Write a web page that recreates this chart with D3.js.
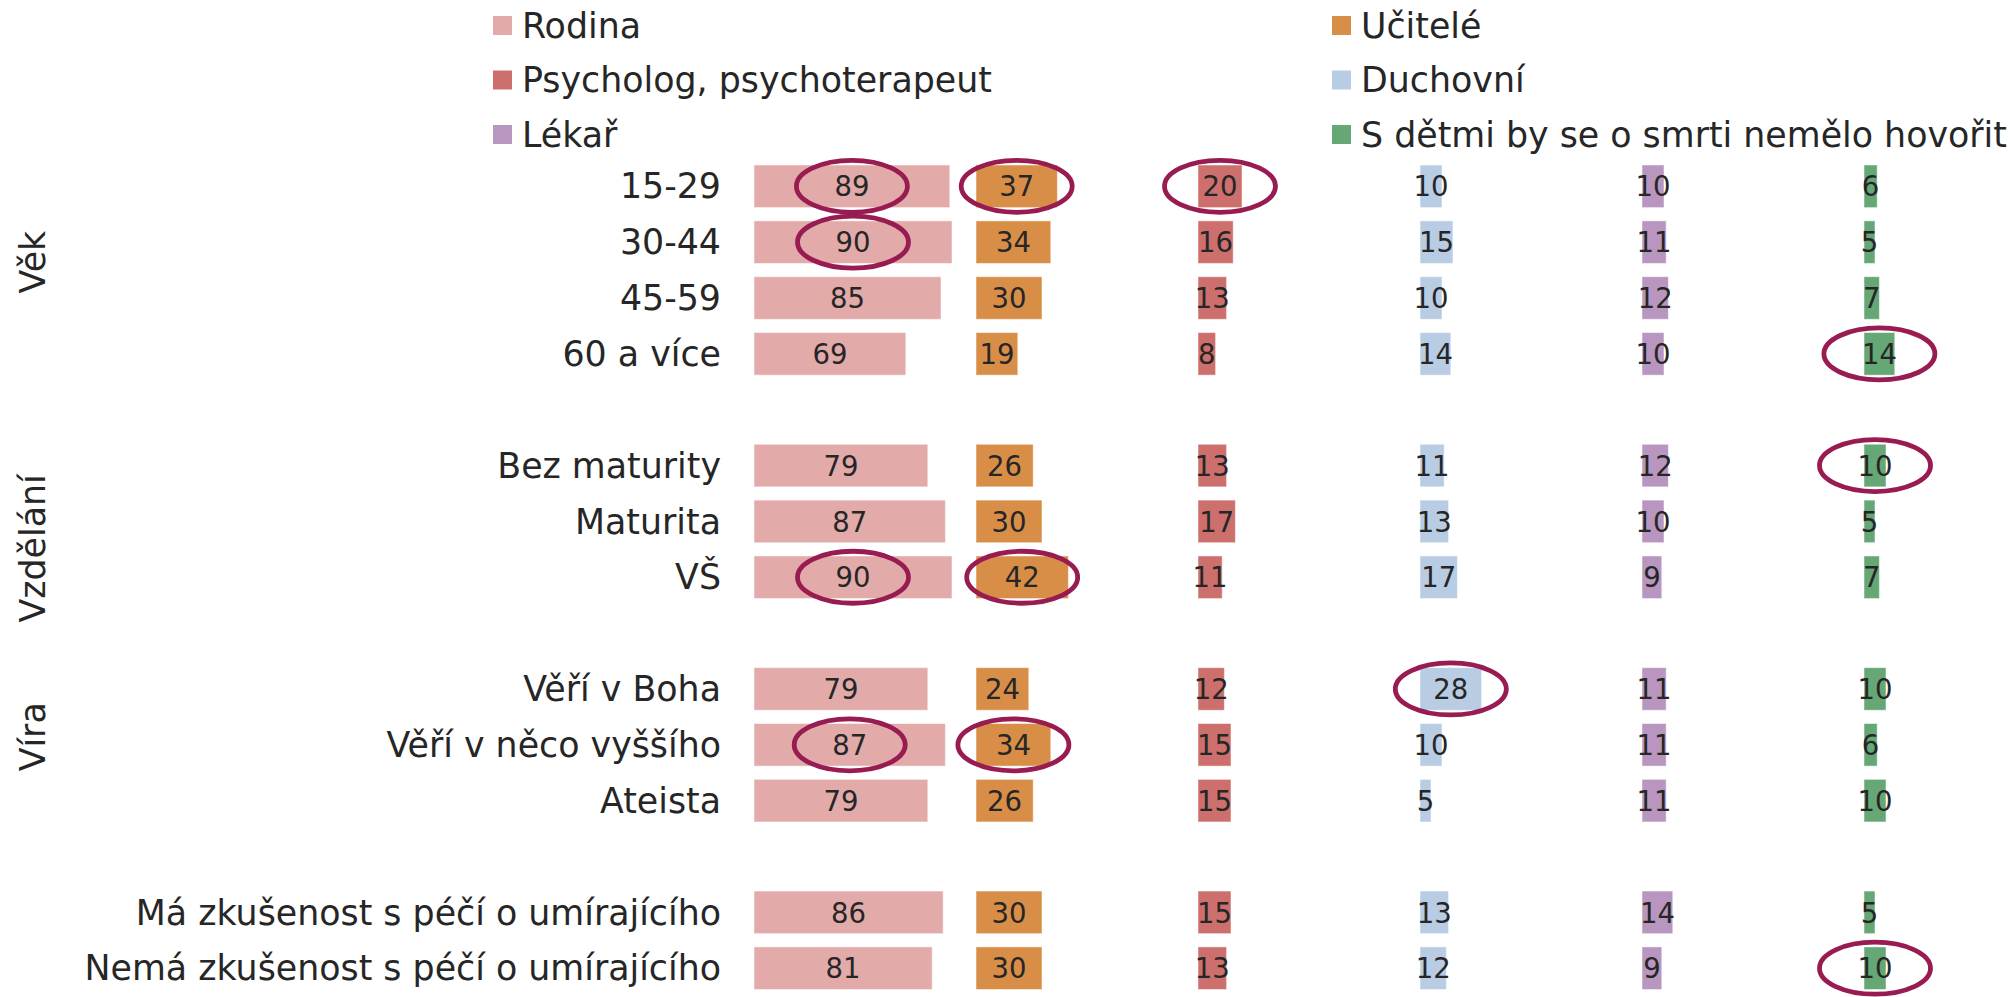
<!DOCTYPE html>
<html>
<head>
<meta charset="utf-8">
<script src="https://cdn.jsdelivr.net/npm/d3@7"></script>
<style>
  body { margin: 0; background: #fff; overflow: hidden; }
  text { font-family: "DejaVu Sans", Verdana, sans-serif; fill: #262626; }
</style>
</head>
<body>
<div id="chart"></div>
<script>
// Categories (rows), grouped
const categories = [
  "15-29", "30-44", "45-59", "60 a více",
  "Bez maturity", "Maturita", "VŠ",
  "Věří v Boha", "Věří v něco vyššího", "Ateista",
  "Má zkušenost s péčí o umírajícího", "Nemá zkušenost s péčí o umírajícího"
];
const groupNames = ["Věk", "Vzdělání", "Víra", ""];
const groupSizes = [4, 3, 3, 2];

// Series (columns)
const seriesNames = [
  "Rodina", "Učitelé", "Psycholog, psychoterapeut",
  "Duchovní", "Lékař", "S dětmi by se o smrti nemělo hovořit"
];
const rodina    = [89, 90, 85, 69, 79, 87, 90, 79, 87, 79, 86, 81];
const ucitele   = [37, 34, 30, 19, 26, 30, 42, 24, 34, 26, 30, 30];
const psycholog = [20, 16, 13, 8, 13, 17, 11, 12, 15, 15, 15, 13];
const duchovni  = [10, 15, 10, 14, 11, 13, 17, 28, 10, 5, 13, 12];
const lekar     = [10, 11, 12, 10, 12, 10, 9, 11, 11, 11, 14, 9];
const deti      = [6, 5, 7, 14, 10, 5, 7, 10, 6, 10, 5, 10];

// Circled cells [category, series]
const highlights = [
  ["15-29", "Rodina"], ["30-44", "Rodina"], ["15-29", "Učitelé"],
  ["15-29", "Psycholog, psychoterapeut"],
  ["60 a více", "S dětmi by se o smrti nemělo hovořit"],
  ["Bez maturity", "S dětmi by se o smrti nemělo hovořit"],
  ["VŠ", "Rodina"], ["VŠ", "Učitelé"],
  ["Věří v Boha", "Duchovní"],
  ["Věří v něco vyššího", "Rodina"], ["Věří v něco vyššího", "Učitelé"],
  ["Nemá zkušenost s péčí o umírajícího", "S dětmi by se o smrti nemělo hovořit"]
];

const seriesColors = ["#e2abaa", "#d98e48", "#cd706d", "#b8cce4", "#b896bf", "#66a776"];

class GroupedBars {
  constructor(_config) {
    this.config = {
      parentElement: _config.parentElement,
      width: _config.width || 2013,
      height: _config.height || 997,
      plotLeft: 754,
      plotTop: 165,
      rowStep: 55.85,
      rowPadding: 0.237,
      panelWidth: 222,
      barMax: 220,
      labelRight: 721,
      labelSize: "34.8px",
      valueSize: "27.5px",
      groupLabelX: 45,
      groupLabelNudge: [-8, 27, -8, 0],
      legendX: [493, 1332],
      legendTop: 16,
      legendStep: 54.5,
    };
    this.initVis();
  }

  initVis() {
    const vis = this;
    const c = vis.config;

    vis.svg = d3.select(c.parentElement)
      .append("svg")
      .attr("width", c.width)
      .attr("height", c.height);

    // rows incl. empty slot between groups
    vis.slots = [];
    vis.groups = [];
    let k = 0;
    groupSizes.forEach((n, gi) => {
      const items = categories.slice(k, k + n);
      vis.groups.push({ name: groupNames[gi], items: items });
      vis.slots.push(...items);
      if (gi < groupSizes.length - 1) vis.slots.push("gap" + gi);
      k += n;
    });

    vis.y = d3.scaleBand()
      .domain(vis.slots)
      .range([c.plotTop, c.plotTop + c.rowStep * (vis.slots.length - c.rowPadding)])
      .paddingInner(c.rowPadding)
      .paddingOuter(0);

    vis.panel = d3.scaleBand()
      .domain(seriesNames)
      .range([c.plotLeft, c.plotLeft + c.panelWidth * seriesNames.length]);

    vis.x = d3.scaleLinear().domain([0, 100]).range([0, c.barMax]);

    vis.color = d3.scaleOrdinal().domain(seriesNames).range(seriesColors);

    const allValues = [rodina, ucitele, psycholog, duchovni, lekar, deti];
    vis.data = [];
    seriesNames.forEach((s, si) => {
      categories.forEach((cat, ci) => {
        vis.data.push({ series: s, category: cat, value: allValues[si][ci] });
      });
    });

    this.updateVis();
  }

  updateVis() {
    const vis = this;
    const c = vis.config;
    const bw = vis.y.bandwidth();

    // Legend
    const legend = vis.svg.append("g").attr("class", "legend")
      .selectAll("g")
      .data(seriesNames)
      .join("g")
      .attr("transform", (d, i) =>
        `translate(${c.legendX[i % 2]},${c.legendTop + Math.floor(i / 2) * c.legendStep})`);
    legend.append("rect")
      .attr("width", 19).attr("height", 19)
      .attr("fill", (d) => vis.color(d));
    legend.append("text")
      .attr("x", 29).attr("y", 9.5).attr("dy", "0.35em")
      .style("font-size", c.labelSize)
      .text((d) => d);

    // Category labels
    vis.svg.selectAll("text.catLabel")
      .data(categories)
      .join("text")
      .attr("class", "catLabel")
      .attr("x", c.labelRight)
      .attr("y", (d) => vis.y(d) + bw / 2)
      .attr("dy", "0.35em")
      .attr("text-anchor", "end")
      .style("font-size", c.labelSize)
      .text((d) => d);

    // Group labels (rotated)
    vis.svg.selectAll("text.groupLabel")
      .data(vis.groups.filter((g) => g.name !== ""))
      .join("text")
      .attr("class", "groupLabel")
      .attr("transform", (g, i) => {
        const top = vis.y(g.items[0]);
        const bottom = vis.y(g.items[g.items.length - 1]) + bw;
        const cy = (top + bottom) / 2 + c.groupLabelNudge[i];
        return `translate(${c.groupLabelX},${cy}) rotate(-90)`;
      })
      .attr("text-anchor", "middle")
      .style("font-size", c.labelSize)
      .text((g) => g.name);

    // Bars
    vis.svg.selectAll("rect.bar")
      .data(vis.data)
      .join("rect")
      .attr("class", "bar")
      .attr("x", (d) => vis.panel(d.series))
      .attr("y", (d) => vis.y(d.category))
      .attr("width", (d) => vis.x(d.value))
      .attr("height", bw)
      .attr("fill", (d) => vis.color(d.series))
      .attr("stroke", "#fff")
      .attr("stroke-opacity", 0.5)
      .attr("stroke-width", 1);

    // Value labels
    vis.svg.selectAll("text.valLabel")
      .data(vis.data)
      .join("text")
      .attr("class", "valLabel")
      .attr("x", (d) => vis.panel(d.series) + vis.x(d.value) / 2)
      .attr("y", (d) => vis.y(d.category) + bw / 2)
      .attr("dy", "0.37em")
      .attr("text-anchor", "middle")
      .style("font-size", c.valueSize)
      .text((d) => d.value);

    // Circled cells
    const lookup = new Map(vis.data.map((d) => [d.category + "|" + d.series, d]));
    vis.svg.selectAll("ellipse.mark")
      .data(highlights.map((h) => lookup.get(h[0] + "|" + h[1])))
      .join("ellipse")
      .attr("class", "mark")
      .attr("cx", (d) => vis.panel(d.series) + vis.x(d.value) / 2)
      .attr("cy", (d) => vis.y(d.category) + bw / 2)
      .attr("rx", 55.5)
      .attr("ry", 26)
      .attr("fill", "none")
      .attr("stroke", "#981b51")
      .attr("stroke-width", 4.8);
  }
}

new GroupedBars({ parentElement: "#chart", width: 2013, height: 997 });
</script>
</body>
</html>
